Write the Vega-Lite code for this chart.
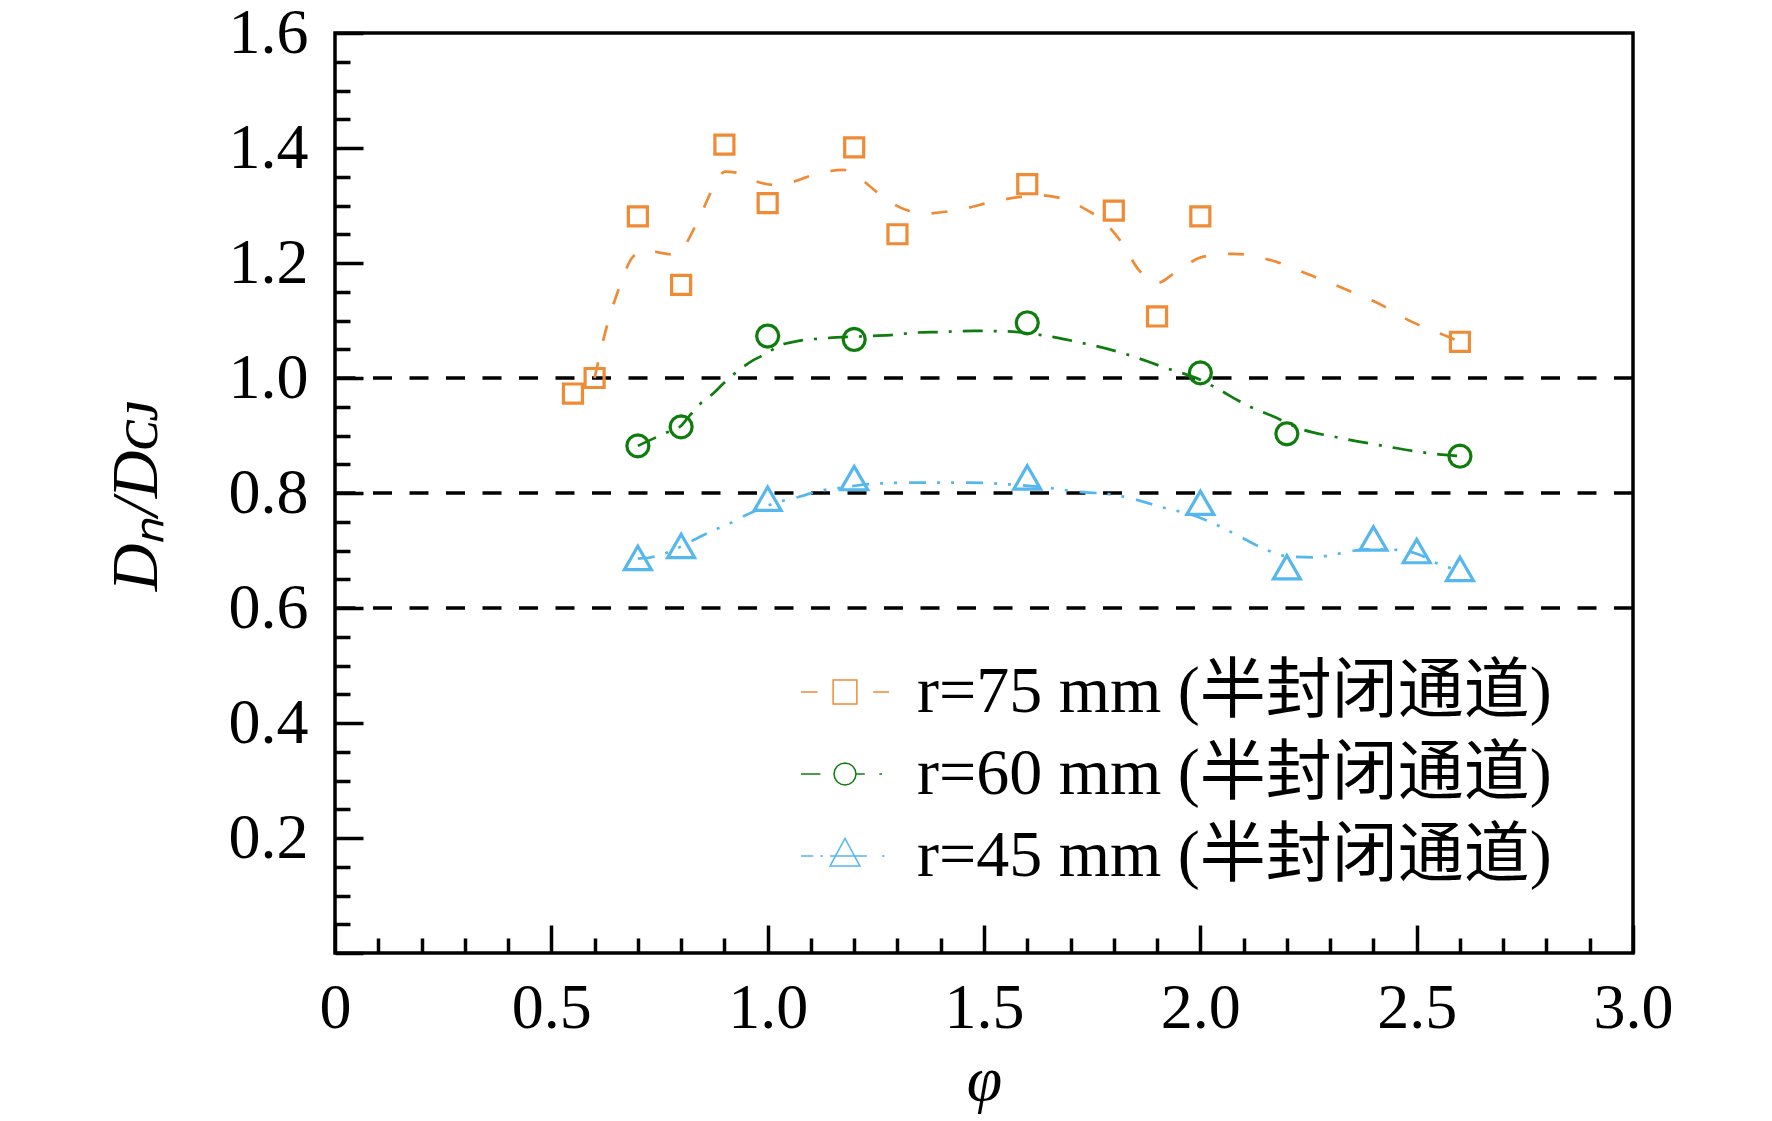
{
  "$schema": "https://vega.github.io/schema/vega-lite/v6.json",
  "width": 1298,
  "height": 920,
  "autosize": {"type": "none"},
  "padding": {"left": 335, "top": 33, "right": 139, "bottom": 168},
  "background": "white",
  "datasets": {
    "refs": [{"v": 0.6}, {"v": 0.8}, {"v": 1.0}],
    "curves": [
      {"s": "r75", "x": 0.6, "y": 1.0}, {"s": "r75", "x": 0.628, "y": 1.089}, {"s": "r75", "x": 0.655, "y": 1.153},
      {"s": "r75", "x": 0.689, "y": 1.211}, {"s": "r75", "x": 0.72, "y": 1.223}, {"s": "r75", "x": 0.75, "y": 1.218},
      {"s": "r75", "x": 0.782, "y": 1.215}, {"s": "r75", "x": 0.801, "y": 1.223}, {"s": "r75", "x": 0.836, "y": 1.269},
      {"s": "r75", "x": 0.878, "y": 1.336}, {"s": "r75", "x": 0.901, "y": 1.359}, {"s": "r75", "x": 0.936, "y": 1.356},
      {"s": "r75", "x": 0.967, "y": 1.344}, {"s": "r75", "x": 1.013, "y": 1.336}, {"s": "r75", "x": 1.052, "y": 1.34},
      {"s": "r75", "x": 1.113, "y": 1.355}, {"s": "r75", "x": 1.175, "y": 1.362}, {"s": "r75", "x": 1.213, "y": 1.347},
      {"s": "r75", "x": 1.275, "y": 1.31}, {"s": "r75", "x": 1.321, "y": 1.292}, {"s": "r75", "x": 1.36, "y": 1.286},
      {"s": "r75", "x": 1.444, "y": 1.293}, {"s": "r75", "x": 1.529, "y": 1.308}, {"s": "r75", "x": 1.575, "y": 1.314},
      {"s": "r75", "x": 1.622, "y": 1.318}, {"s": "r75", "x": 1.676, "y": 1.313}, {"s": "r75", "x": 1.745, "y": 1.289},
      {"s": "r75", "x": 1.768, "y": 1.278}, {"s": "r75", "x": 1.814, "y": 1.24}, {"s": "r75", "x": 1.861, "y": 1.185},
      {"s": "r75", "x": 1.899, "y": 1.165}, {"s": "r75", "x": 1.945, "y": 1.185}, {"s": "r75", "x": 2.007, "y": 1.211},
      {"s": "r75", "x": 2.076, "y": 1.216}, {"s": "r75", "x": 2.176, "y": 1.202}, {"s": "r75", "x": 2.254, "y": 1.179},
      {"s": "r75", "x": 2.33, "y": 1.156}, {"s": "r75", "x": 2.411, "y": 1.13}, {"s": "r75", "x": 2.488, "y": 1.098},
      {"s": "r75", "x": 2.562, "y": 1.075}, {"s": "r75", "x": 2.6, "y": 1.063},
      {"s": "r60", "x": 0.7, "y": 0.882}, {"s": "r60", "x": 0.728, "y": 0.892}, {"s": "r60", "x": 0.763, "y": 0.904},
      {"s": "r60", "x": 0.8, "y": 0.917}, {"s": "r60", "x": 0.82, "y": 0.935}, {"s": "r60", "x": 0.844, "y": 0.955},
      {"s": "r60", "x": 0.874, "y": 0.973}, {"s": "r60", "x": 0.897, "y": 0.99}, {"s": "r60", "x": 0.924, "y": 1.008},
      {"s": "r60", "x": 0.967, "y": 1.031}, {"s": "r60", "x": 0.998, "y": 1.043}, {"s": "r60", "x": 1.021, "y": 1.054},
      {"s": "r60", "x": 1.075, "y": 1.065}, {"s": "r60", "x": 1.129, "y": 1.069}, {"s": "r60", "x": 1.236, "y": 1.073},
      {"s": "r60", "x": 1.29, "y": 1.075}, {"s": "r60", "x": 1.344, "y": 1.079}, {"s": "r60", "x": 1.398, "y": 1.08},
      {"s": "r60", "x": 1.475, "y": 1.082}, {"s": "r60", "x": 1.552, "y": 1.081}, {"s": "r60", "x": 1.629, "y": 1.075},
      {"s": "r60", "x": 1.714, "y": 1.063}, {"s": "r60", "x": 1.822, "y": 1.043}, {"s": "r60", "x": 1.922, "y": 1.017},
      {"s": "r60", "x": 2.0, "y": 0.997}, {"s": "r60", "x": 2.038, "y": 0.982}, {"s": "r60", "x": 2.115, "y": 0.95},
      {"s": "r60", "x": 2.169, "y": 0.933}, {"s": "r60", "x": 2.23, "y": 0.912}, {"s": "r60", "x": 2.315, "y": 0.897},
      {"s": "r60", "x": 2.423, "y": 0.882}, {"s": "r60", "x": 2.531, "y": 0.869}, {"s": "r60", "x": 2.6, "y": 0.864},
      {"s": "r45", "x": 0.7, "y": 0.686}, {"s": "r45", "x": 0.72, "y": 0.687}, {"s": "r45", "x": 0.759, "y": 0.694},
      {"s": "r45", "x": 0.8, "y": 0.707}, {"s": "r45", "x": 0.836, "y": 0.721}, {"s": "r45", "x": 0.878, "y": 0.736},
      {"s": "r45", "x": 0.909, "y": 0.746}, {"s": "r45", "x": 0.951, "y": 0.762}, {"s": "r45", "x": 0.99, "y": 0.775},
      {"s": "r45", "x": 1.028, "y": 0.785}, {"s": "r45", "x": 1.075, "y": 0.794}, {"s": "r45", "x": 1.121, "y": 0.804},
      {"s": "r45", "x": 1.16, "y": 0.808}, {"s": "r45", "x": 1.244, "y": 0.816}, {"s": "r45", "x": 1.332, "y": 0.818},
      {"s": "r45", "x": 1.413, "y": 0.818}, {"s": "r45", "x": 1.468, "y": 0.818}, {"s": "r45", "x": 1.537, "y": 0.816},
      {"s": "r45", "x": 1.637, "y": 0.81}, {"s": "r45", "x": 1.722, "y": 0.802}, {"s": "r45", "x": 1.799, "y": 0.797},
      {"s": "r45", "x": 1.853, "y": 0.788}, {"s": "r45", "x": 1.922, "y": 0.773}, {"s": "r45", "x": 1.968, "y": 0.765},
      {"s": "r45", "x": 2.022, "y": 0.75}, {"s": "r45", "x": 2.092, "y": 0.724}, {"s": "r45", "x": 2.153, "y": 0.701},
      {"s": "r45", "x": 2.2, "y": 0.69}, {"s": "r45", "x": 2.261, "y": 0.688}, {"s": "r45", "x": 2.323, "y": 0.695},
      {"s": "r45", "x": 2.384, "y": 0.702}, {"s": "r45", "x": 2.461, "y": 0.701}, {"s": "r45", "x": 2.508, "y": 0.692},
      {"s": "r45", "x": 2.546, "y": 0.678}, {"s": "r45", "x": 2.6, "y": 0.665}
    ],
    "points": [
      {"s": "r75", "m": "square", "x": 0.55, "y": 0.973}, {"s": "r75", "m": "square", "x": 0.6, "y": 1.0},
      {"s": "r75", "m": "square", "x": 0.7, "y": 1.281}, {"s": "r75", "m": "square", "x": 0.8, "y": 1.162},
      {"s": "r75", "m": "square", "x": 0.9, "y": 1.406}, {"s": "r75", "m": "square", "x": 1.0, "y": 1.304},
      {"s": "r75", "m": "square", "x": 1.2, "y": 1.401}, {"s": "r75", "m": "square", "x": 1.3, "y": 1.25},
      {"s": "r75", "m": "square", "x": 1.6, "y": 1.337}, {"s": "r75", "m": "square", "x": 1.8, "y": 1.291},
      {"s": "r75", "m": "square", "x": 1.9, "y": 1.107}, {"s": "r75", "m": "square", "x": 2.0, "y": 1.281},
      {"s": "r75", "m": "square", "x": 2.6, "y": 1.063},
      {"s": "r60", "m": "circle", "x": 0.7, "y": 0.882}, {"s": "r60", "m": "circle", "x": 0.8, "y": 0.915},
      {"s": "r60", "m": "circle", "x": 1.0, "y": 1.073}, {"s": "r60", "m": "circle", "x": 1.2, "y": 1.067},
      {"s": "r60", "m": "circle", "x": 1.6, "y": 1.096}, {"s": "r60", "m": "circle", "x": 2.0, "y": 1.009},
      {"s": "r60", "m": "circle", "x": 2.2, "y": 0.903}, {"s": "r60", "m": "circle", "x": 2.6, "y": 0.864},
      {"s": "r45", "m": "triangle", "x": 0.7, "y": 0.687}, {"s": "r45", "m": "triangle", "x": 0.8, "y": 0.708},
      {"s": "r45", "m": "triangle", "x": 1.0, "y": 0.79}, {"s": "r45", "m": "triangle", "x": 1.2, "y": 0.826},
      {"s": "r45", "m": "triangle", "x": 1.6, "y": 0.827}, {"s": "r45", "m": "triangle", "x": 2.0, "y": 0.783},
      {"s": "r45", "m": "triangle", "x": 2.2, "y": 0.671}, {"s": "r45", "m": "triangle", "x": 2.4, "y": 0.721},
      {"s": "r45", "m": "triangle", "x": 2.5, "y": 0.699}, {"s": "r45", "m": "triangle", "x": 2.6, "y": 0.668}
    ]
  },
  "layer": [
    {
      "data": {"name": "refs"},
      "mark": {"type": "rule", "color": "black", "strokeWidth": 3.5, "strokeDash": [19, 17.5]},
      "encoding": {
        "y": {"field": "v", "type": "quantitative", "scale": {"domain": [0, 1.6], "nice": false}, "axis": null}
      }
    },
    {
      "data": {"name": "curves"},
      "transform": [{"filter": "datum.s == 'r75'"}],
      "mark": {"type": "line", "strokeWidth": 2.7, "interpolate": "monotone", "color": "#EF8A35", "strokeDash": [16, 22]},
      "encoding": {
        "x": {
          "field": "x", "type": "quantitative",
          "scale": {"domain": [0, 3], "nice": false},
          "axis": {
            "values": [0, 0.5, 1, 1.5, 2, 2.5, 3],
            "tickSize": -28, "tickWidth": 3.5, "tickColor": "black",
            "domain": false, "grid": false,
            "labelExpr": "datum.value === 0 ? '0' : format(datum.value, '.1f')",
            "labelFont": "Liberation Serif", "labelFontSize": 64, "labelColor": "black",
            "labelPadding": 51, "labelFlush": false, "labelOverlap": false,
            "title": "φ", "titleFont": "Liberation Serif", "titleFontSize": 64,
            "titleFontStyle": "italic", "titleFontWeight": "normal", "titleColor": "black", "titlePadding": 8
          }
        },
        "y": {
          "field": "y", "type": "quantitative",
          "scale": {"domain": [0, 1.6], "nice": false},
          "axis": {
            "values": [0, 0.2, 0.4, 0.6, 0.8, 1.0, 1.2, 1.4, 1.6],
            "tickSize": -28, "tickWidth": 3.5, "tickColor": "black",
            "domain": false, "grid": false,
            "labelExpr": "datum.value === 0 ? '' : format(datum.value, '.1f')",
            "labelFont": "Liberation Serif", "labelFontSize": 64, "labelColor": "black",
            "labelPadding": 55, "labelOverlap": false,
            "title": "Dₙ/Dᴄᴊ", "titleFont": "Liberation Serif", "titleFontSize": 66,
            "titleFontStyle": "italic", "titleFontWeight": "normal", "titleColor": "black", "titlePadding": 58
          }
        }
      }
    },
    {
      "data": {"name": "curves"},
      "transform": [{"filter": "datum.s == 'r60'"}],
      "mark": {"type": "line", "strokeWidth": 2.7, "interpolate": "monotone", "color": "#0E7D0E", "strokeDash": [20, 11, 3, 11]},
      "encoding": {
        "x": {"field": "x", "type": "quantitative", "scale": {"domain": [0, 3], "nice": false}, "axis": null},
        "y": {"field": "y", "type": "quantitative", "scale": {"domain": [0, 1.6], "nice": false}, "axis": null}
      }
    },
    {
      "data": {"name": "curves"},
      "transform": [{"filter": "datum.s == 'r45'"}],
      "mark": {"type": "line", "strokeWidth": 2.7, "interpolate": "monotone", "color": "#56B7EE", "strokeDash": [17, 11, 3, 11, 3, 12]},
      "encoding": {
        "x": {"field": "x", "type": "quantitative", "scale": {"domain": [0, 3], "nice": false}, "axis": null},
        "y": {"field": "y", "type": "quantitative", "scale": {"domain": [0, 1.6], "nice": false}, "axis": null}
      }
    },
    {
      "data": {"name": "points"},
      "mark": {"type": "point", "filled": false, "strokeWidth": 3.2, "opacity": 1, "size": 1024},
      "encoding": {
        "x": {
          "field": "x", "type": "quantitative",
          "scale": {"domain": [0, 3], "nice": false},
          "axis": {
            "orient": "bottom",
            "values": [0.1, 0.2, 0.3, 0.4, 0.6, 0.7, 0.8, 0.9, 1.1, 1.2, 1.3, 1.4, 1.6, 1.7, 1.8, 1.9, 2.1, 2.2, 2.3, 2.4, 2.6, 2.7, 2.8, 2.9],
            "tickSize": -15, "tickWidth": 3.5, "tickColor": "black",
            "domain": false, "grid": false, "labels": false, "title": null
          }
        },
        "y": {
          "field": "y", "type": "quantitative",
          "scale": {"domain": [0, 1.6], "nice": false},
          "axis": {
            "orient": "left",
            "values": [0.05, 0.1, 0.15, 0.25, 0.3, 0.35, 0.45, 0.5, 0.55, 0.65, 0.7, 0.75, 0.85, 0.9, 0.95, 1.05, 1.1, 1.15, 1.25, 1.3, 1.35, 1.45, 1.5, 1.55],
            "tickSize": -15, "tickWidth": 3.5, "tickColor": "black",
            "domain": false, "grid": false, "labels": false, "title": null
          }
        },
        "shape": {
          "field": "m", "type": "nominal",
          "scale": {
            "domain": ["square", "circle", "triangle"],
            "range": [
              "M-0.594,-0.594L0.594,-0.594L0.594,0.594L-0.594,0.594Z",
              "M0.6875,0L0.6352,0.2631L0.4861,0.4861L0.2631,0.6352L0,0.6875L-0.2631,0.6352L-0.4861,0.4861L-0.6352,0.2631L-0.6875,0L-0.6352,-0.2631L-0.4861,-0.4861L-0.2631,-0.6352L0,-0.6875L0.2631,-0.6352L0.4861,-0.4861L0.6352,-0.2631Z",
              "M0,-0.731L0.844,0.731L-0.844,0.731Z"
            ]
          },
          "legend": null
        },
        "color": {
          "field": "s", "type": "nominal",
          "scale": {"domain": ["r75", "r60", "r45"], "range": ["#EF8A35", "#0E7D0E", "#56B7EE"]},
          "legend": {
            "orient": "none", "legendX": 465, "legendY": 614, "title": null,
            "padding": 0, "rowPadding": 4, "symbolSize": 7744,
            "symbolType": {"expr": "datum.value == 'r75' ? 'M-1,0L-0.62,0M0.64,0L1,0M-0.27,-0.27L0.27,-0.27L0.27,0.27L-0.27,0.27Z' : datum.value == 'r60' ? 'M-1,0L-0.56,0M0.25,0L0.45,0M0.78,0L0.84,0M0.25,0L0.231,0.096L0.177,0.177L0.096,0.231L0,0.25L-0.096,0.231L-0.177,0.177L-0.231,0.096L-0.25,0L-0.231,-0.096L-0.177,-0.177L-0.096,-0.231L0,-0.25L0.096,-0.231L0.177,-0.177L0.231,-0.096Z' : 'M-1,0L-0.72,0M-0.56,0L-0.5,0M-0.34,0L0.5,0M0.84,0L0.9,0M0,-0.4L0.34,0.23L-0.34,0.23Z'"},
            "labelFont": "Liberation Serif, Noto Sans CJK SC", "labelFontSize": 66, "labelColor": "black",
            "labelOffset": 27, "labelLimit": 2000,
            "labelExpr": "datum.label == 'r75' ? 'r=75 mm (半封闭通道)' : datum.label == 'r60' ? 'r=60 mm (半封闭通道)' : 'r=45 mm (半封闭通道)'",
            "encode": {
              "symbols": {
                "update": {
                  "stroke": {"scale": "color", "field": "value"},
                  "fill": {"value": "transparent"},
                  "strokeWidth": {"value": 3},
                  "size": {"value": 7744},
                  "opacity": {"value": 1}
                }
              }
            }
          }
        }
      }
    }
  ],
  "resolve": {"axis": {"x": "independent", "y": "independent"}},
  "config": {
    "view": {"stroke": "black", "strokeWidth": 3.5},
    "font": "Liberation Serif"
  }
}
